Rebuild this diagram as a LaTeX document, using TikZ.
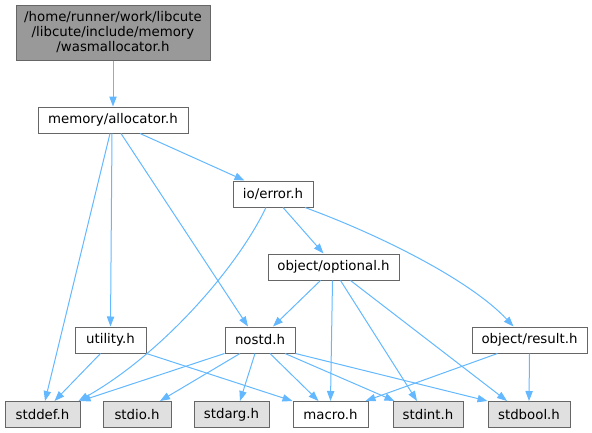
\documentclass[tikz,border=0pt]{standalone}
\usepackage{fontspec}
\setmainfont{DejaVu Sans}
\usetikzlibrary{arrows.meta,calc}
\definecolor{edgec}{HTML}{63B8FF}
\definecolor{borderc}{HTML}{666666}
\definecolor{sysfill}{HTML}{E0E0E0}
\definecolor{topfill}{HTML}{999999}
\tikzset{
  box/.style={draw=borderc, line width=0.75pt, fill=white, inner sep=0pt,
    minimum height=19.5pt, font=\fontsize{10}{11.25}\selectfont, anchor=center},
  sysbox/.style={box, fill=sysfill},
  edge/.style={draw=edgec, line width=0.75pt, -{Triangle[length=7.5pt,width=5.5pt]}},
}
\begin{document}
\begin{tikzpicture}[x=0.75pt,y=-0.75pt]
\useasboundingbox (0,0) rectangle (592,432);
% nodes
\node[box, fill=topfill, minimum width=145.5pt, minimum height=41.25pt, align=center] (top) at (113,32.5)
  {/home/runner/work/libcute\\/libcute/include/memory\\/wasmallocator.h};
\node[box, minimum width=112.5pt] (alloc) at (113,120) {memory/allocator.h};
\node[box, minimum width=60pt] (error) at (273,194) {io/error.h};
\node[box, minimum width=98.25pt] (optional) at (333.5,267) {object/optional.h};
\node[box, minimum width=53.25pt] (utility) at (110.5,340) {utility.h};
\node[box, minimum width=52.5pt] (nostd) at (260,340) {nostd.h};
\node[box, minimum width=86.25pt] (result) at (529.5,340) {object/result.h};
\node[sysbox, minimum width=56.25pt] (stddef) at (42.5,414.5) {stddef.h};
\node[sysbox, minimum width=51pt] (stdio) at (137,414.5) {stdio.h};
\node[sysbox, minimum width=56.25pt] (stdarg) at (231.5,414.5) {stdarg.h};
\node[box, minimum width=56.25pt] (macro) at (330.5,414.5) {macro.h};
\node[sysbox, minimum width=52.5pt] (stdint) at (428,414.5) {stdint.h};
\node[sysbox, minimum width=61.5pt] (stdbool) at (529,414.5) {stdbool.h};
% edges
\draw[edge] (top.south) -- (alloc.north);
\draw[edge] ($(alloc.south)+(-3,0)$) -- ($(stddef.north)+(2.5,0)$);
\draw[edge] ($(alloc.south)+(-1,0)$) -- (utility.north);
\draw[edge] ($(alloc.south)+(8,0)$) -- ($(nostd.north)+(-12,0)$);
\draw[edge] ($(alloc.south)+(27,0)$) -- ($(error.north west)+(12,0)$);
\draw[edge] ($(error.south)+(-7,0)$) .. controls (236,270) and (160,355) .. ($(stddef.north east)+(-2,0)$);
\draw[edge] ($(error.south)+(10,0)$) -- ($(optional.north)+(-10,0)$);
\draw[edge] ($(error.south)+(32,0)$) .. controls (380,235) and (470,280) .. ($(result.north)+(-16,0)$);
\draw[edge] ($(optional.south)+(-13,0)$) -- ($(nostd.north)+(13,0)$);
\draw[edge] ($(optional.south)+(-1,0)$) -- (macro.north);
\draw[edge] ($(optional.south)+(7,0)$) -- ($(stdint.north)+(-11,0)$);
\draw[edge] ($(optional.south)+(17,0)$) -- ($(stdbool.north)+(-22,0)$);
\draw[edge] ($(utility.south)+(-10,0)$) -- ($(stddef.north)+(12,0)$);
\draw[edge] (utility.south east) -- (macro.north west);
\draw[edge] (nostd.south west) -- (stddef.north east);
\draw[edge] ($(nostd.south)+(-20,0)$) -- ($(stdio.north)+(23,0)$);
\draw[edge] ($(nostd.south)+(-5,0)$) -- ($(stdarg.north)+(8.5,0)$);
\draw[edge] ($(nostd.south)+(10,0)$) -- ($(macro.north)+(-12,0)$);
\draw[edge] ($(nostd.south)+(25,0)$) -- ($(stdint.north west)+(2,0)$);
\draw[edge] (nostd.south east) -- (stdbool.north west);
\draw[edge] ($(result.south)+(-32,0)$) -- ($(macro.north east)+(-3,0)$);
\draw[edge] (result.south) -- (stdbool.north);
\end{tikzpicture}
\end{document}
